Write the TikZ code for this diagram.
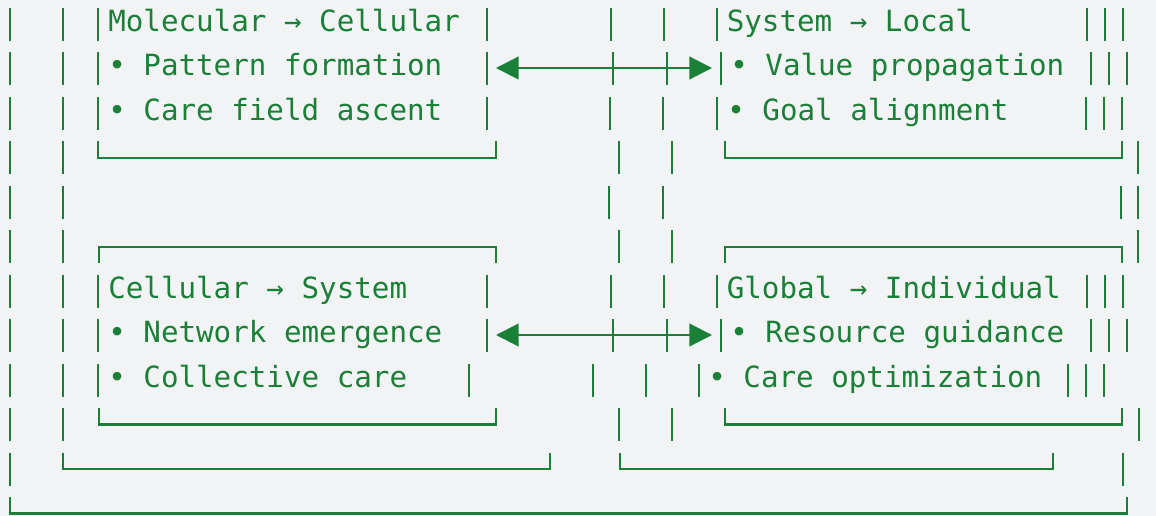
\documentclass[tikz,border=0pt]{standalone}
\usepackage{fontspec}
\setmonofont{DejaVu Sans Mono}
\usetikzlibrary{arrows.meta}
\definecolor{ink}{RGB}{26,127,55}
\definecolor{paper}{RGB}{242,243,245}
\tikzset{
  wire/.style={draw=ink, line width=1.6pt},
  txt/.style={anchor=base west, inner sep=0pt, text=ink,
    font=\ttfamily\fontsize{21.9}{26}\selectfont},
  tip/.style={{Triangle[length=17pt 0 0,width=17pt 0 0]}-{Triangle[length=17pt 0 0,width=17pt 0 0]}}
}
\begin{document}
\begin{tikzpicture}[x=0.75pt, y=-0.75pt]
  \fill[paper] (0,0) rectangle (1156,516);
  \useasboundingbox (0,0) rectangle (1156,516);
  % row r starts at 8+44.45*(r-1)
  \foreach \r/\xs in {1/{10,63,98,487,611,664,717,1087,1105,1123},
                      2/{10,63,98,487,613,667,721,1091,1109,1127},
                      3/{10,63,98,487,610,663,717,1086,1104,1122},
                      4/{10,63,619,672,1138},
                      5/{10,63,609,663,1121,1138},
                      6/{10,63,619,672,1138},
                      7/{10,63,98,487,611,664,717,1087,1105,1123},
                      8/{10,63,98,487,613,667,721,1091,1109,1127},
                      9/{10,63,98,469,593,646,699,1068,1086,1104},
                      10/{10,63,619,672,1139},
                      11/{10,1123}} {
    \foreach \x in \xs {
      \draw[wire] (\x,{8+44.45*(\r-1)}) -- ++(0,33);
    }
  }
  % corners: k=0 opens upward, k=33 opens downward
  \foreach \r/\a/\b/\k in {4/98/496/0, 4/725/1122/0, 6/99/496/33, 6/725/1122/33,
                           10/99/496/0, 10/725/1122/0, 11/63/550/0, 11/620/1053/0,
                           12/10/1127/0} {
    \draw[wire] (\a,{8+44.45*(\r-1)+\k}) |- (\b,{8+44.45*(\r-1)+16.5})
      -- (\b,{8+44.45*(\r-1)+\k});
  }
  % texts
  \node[txt] (mol) at (108,31.5) {Molecular → Cellular};
  \node[txt] (pat) at (108,76) {• Pattern formation};
  \node[txt] (cfa) at (108,120.4) {• Care field ascent};
  \node[txt] (sys) at (726.5,31.5) {System → Local};
  \node[txt] (val) at (730,76) {• Value propagation};
  \node[txt] (goal) at (727,120.4) {• Goal alignment};
  \node[txt] (cel) at (108,298.2) {Cellular → System};
  \node[txt] (net) at (108,342.7) {• Network emergence};
  \node[txt] (coll) at (108,387.1) {• Collective care};
  \node[txt] (glob) at (726.5,298.2) {Global → Individual};
  \node[txt] (res) at (730,342.7) {• Resource guidance};
  \node[txt] (opt) at (708,387.1) {• Care optimization};
  % links
  \coordinate (pat-r) at (496,68);
  \coordinate (val-l) at (712,68);
  \coordinate (net-r) at (496,335);
  \coordinate (res-l) at (712,335);
  \draw[wire, tip] (pat-r) -- (val-l);
  \draw[wire, tip] (net-r) -- (res-l);
\end{tikzpicture}
\end{document}
